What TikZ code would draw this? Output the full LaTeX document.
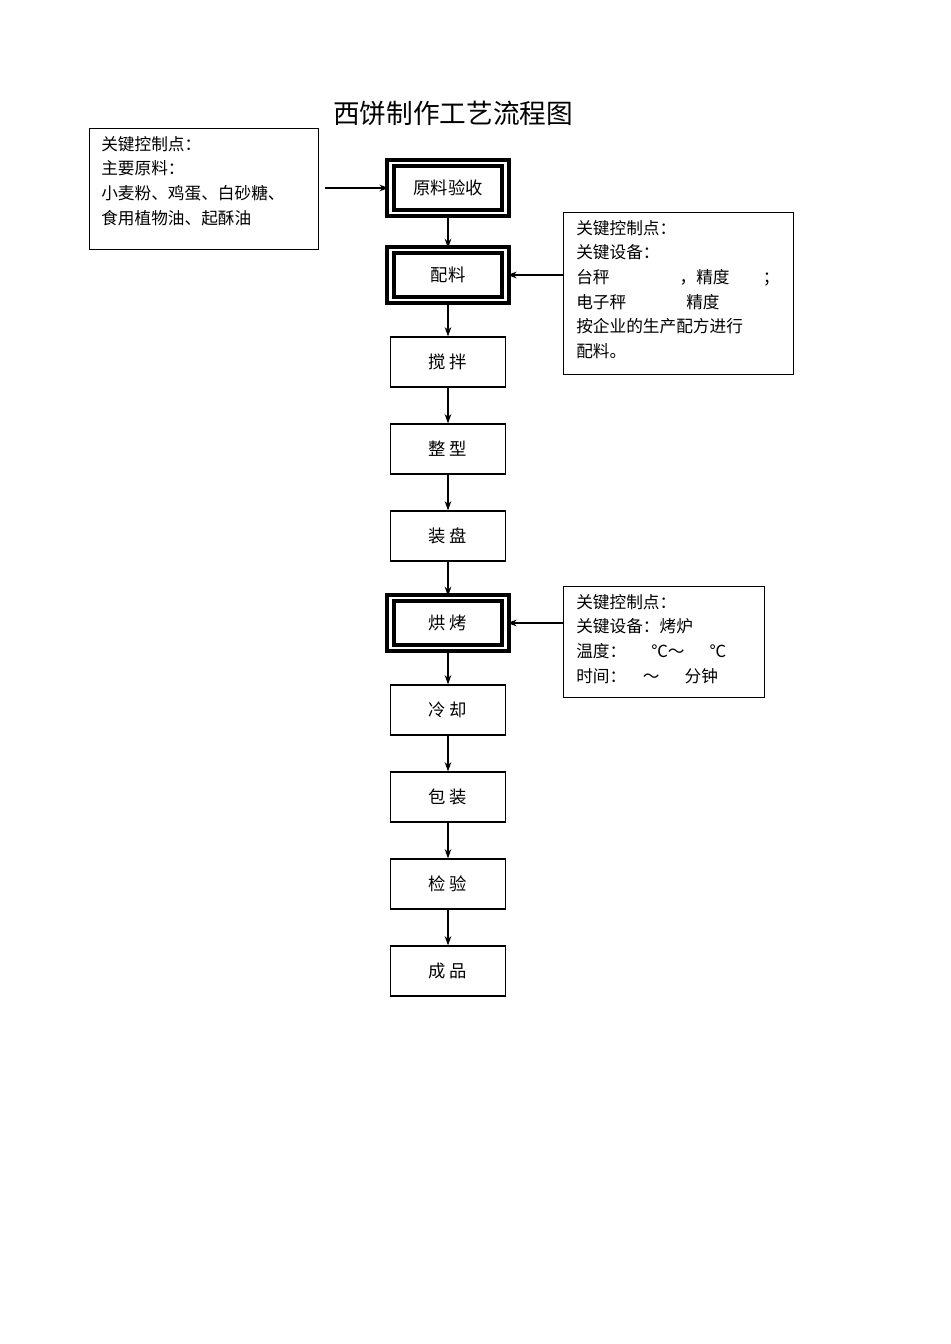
\documentclass[tikz,border=0pt]{standalone}
\usepackage{fontspec}
\setmainfont{Noto Sans CJK SC}
\usetikzlibrary{arrows.meta}
\begin{document}
\begin{tikzpicture}[x=0.75pt,y=-0.75pt,
  stepbox/.style={draw,line width=0.9pt,minimum width=86pt,minimum height=37.5pt,inner sep=0pt,font=\fontsize{13}{15}\selectfont},
  keybox/.style={stepbox,line width=3pt,double=white,double distance=2.2pt},
  note/.style={draw,line width=0.8pt,anchor=north west,align=left,inner sep=0pt,font=\fontsize{12.5}{18.5}\selectfont},
  arr/.style={-{Stealth[length=7pt,width=5pt]},line width=0.9pt}]
\useasboundingbox (0,0) rectangle (950,1344);
\node (title) at (453,113) {\fontsize{20}{24}\selectfont 西饼制作工艺流程图};
\node[keybox] (a) at (448,188) {原料验收};
\node[keybox] (b) at (448,275) {配料};
\node[stepbox] (c) at (448,362) {搅\ 拌};
\node[stepbox] (d) at (448,449) {整\ 型};
\node[stepbox] (e) at (448,536) {装\ 盘};
\node[keybox] (f) at (448,623) {烘\ 烤};
\node[stepbox] (g) at (448,710) {冷\ 却};
\node[stepbox] (h) at (448,797) {包\ 装};
\node[stepbox] (i) at (448,884) {检\ 验};
\node[stepbox] (j) at (448,971) {成\ 品};
\foreach \p/\q in {a/b,b/c,c/d,d/e,e/f,f/g,g/h,h/i,i/j} \draw[arr] (\p) -- (\q);
\node[note,minimum width=171.75pt,minimum height=90.75pt] (n1) at (89,128) {};
\node[anchor=north west,align=left,inner sep=0pt,font=\fontsize{12.5}{18.5}\selectfont] at (101,136) {关键控制点：\\主要原料：\\小麦粉、鸡蛋、白砂糖、\\食用植物油、起酥油};
\coordinate (s1) at (325,188);
\draw[arr] (s1) -- (a);
\node[note,minimum width=172.5pt,minimum height=121.5pt] (n2) at (563,212) {};
\node[anchor=north west,align=left,inner sep=0pt,font=\fontsize{12.5}{18.5}\selectfont] at (576,220) {关键控制点：\\关键设备：\\台秤\hspace{4.2em}，精度\hspace{2em}；\\电子秤\hspace{3.6em}精度\\按企业的生产配方进行\\配料。};
\draw[arr] (n2.west |- b) -- (b);
\node[note,minimum width=150.75pt,minimum height=83.25pt] (n3) at (563,586) {};
\node[anchor=north west,align=left,inner sep=0pt,font=\fontsize{12.5}{18.5}\selectfont] at (576,594) {关键控制点：\\关键设备：烤炉\\温度：\hspace{1.5em}℃～\hspace{1.5em}℃\\时间：\hspace{1em}～\hspace{1.5em}分钟};
\draw[arr] (n3.west |- f) -- (f);
\end{tikzpicture}
\end{document}
